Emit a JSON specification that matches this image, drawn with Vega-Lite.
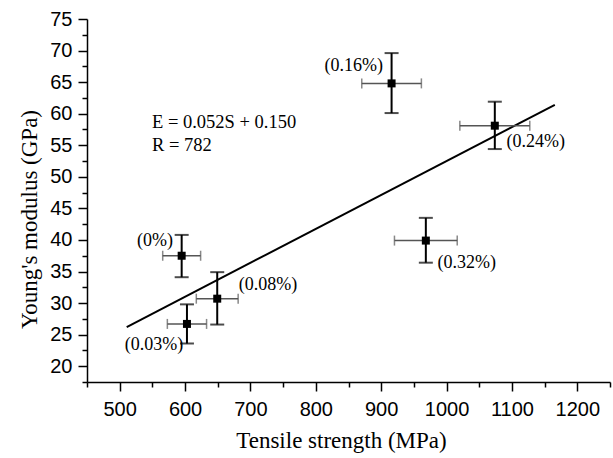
{
  "$schema": "https://vega.github.io/schema/vega-lite/v6.json",
  "width": 523,
  "height": 363,
  "autosize": {"type": "none"},
  "padding": {"left": 87, "top": 19, "right": 3, "bottom": 76},
  "background": "white",
  "config": {
    "view": {"stroke": null},
    "axis": {
      "grid": false,
      "domainColor": "black",
      "domainWidth": 1.5,
      "tickColor": "black",
      "tickWidth": 1.5,
      "labelColor": "black",
      "labelFont": "Liberation Sans",
      "labelFontSize": 20,
      "titleFont": "Liberation Serif",
      "titleFontSize": 23,
      "titleFontWeight": "normal",
      "titleColor": "black"
    }
  },
  "datasets": {
    "points": [
      {"s": 594.8, "e": 37.5, "s_lo": 565.8, "s_hi": 623.8, "e_lo": 34.1, "e_hi": 40.8},
      {"s": 602.9, "e": 26.7, "s_lo": 572.9, "s_hi": 632.9, "e_lo": 23.6, "e_hi": 29.8},
      {"s": 649.2, "e": 30.7, "s_lo": 617.2, "s_hi": 681.2, "e_lo": 26.6, "e_hi": 34.9},
      {"s": 915.9, "e": 64.8, "s_lo": 870.3, "s_hi": 961.5, "e_lo": 60.1, "e_hi": 69.6},
      {"s": 1073.8, "e": 58.1, "s_lo": 1020.3, "s_hi": 1127.3, "e_lo": 54.4, "e_hi": 61.9},
      {"s": 968.3, "e": 39.9, "s_lo": 920.3, "s_hi": 1016.3, "e_lo": 36.4, "e_hi": 43.5}
    ],
    "fit": [
      {"s": 510.7, "e": 26.2},
      {"s": 1165.6, "e": 61.4}
    ],
    "labels": [
      {"s": 554, "e": 39.9, "text": "(0%)"},
      {"s": 858, "e": 67.6, "text": "(0.16%)"},
      {"s": 1136.5, "e": 55.5, "text": "(0.24%)"},
      {"s": 1031, "e": 36.4, "text": "(0.32%)"},
      {"s": 726.8, "e": 32.8, "text": "(0.08%)"},
      {"s": 552.4, "e": 23.4, "text": "(0.03%)"}
    ],
    "equation": [
      {"s": 549.4, "e": 58.7, "text": "E = 0.052S + 0.150"},
      {"s": 549.4, "e": 55.1, "text": "R = 782"}
    ]
  },
  "resolve": {"axis": {"x": "independent", "y": "independent"}},
  "layer": [
    {
      "data": {"name": "fit"},
      "mark": {"type": "line", "color": "black", "strokeWidth": 2},
      "encoding": {
        "x": {
          "field": "s", "type": "quantitative",
          "scale": {"domain": [450, 1250], "nice": false, "zero": false},
          "axis": {
            "orient": "bottom",
            "values": [500, 600, 700, 800, 900, 1000, 1100, 1200],
            "format": "d",
            "tickSize": 9,
            "labelPadding": 8,
            "title": "Tensile strength (MPa)",
            "titlePadding": 10,
            "titleX": 254
          }
        },
        "y": {
          "field": "e", "type": "quantitative",
          "scale": {"domain": [17.5, 75], "nice": false, "zero": false},
          "axis": {
            "orient": "left",
            "values": [20, 25, 30, 35, 40, 45, 50, 55, 60, 65, 70, 75],
            "format": "d",
            "tickSize": 9,
            "labelPadding": 6,
            "title": "Young's modulus (GPa)",
            "titlePadding": 8,
            "titleY": 200
          }
        }
      }
    },
    {
      "data": {"name": "points"},
      "mark": {"type": "rule", "color": "#555555", "strokeWidth": 1.5},
      "encoding": {
        "x": {
          "field": "s_lo", "type": "quantitative",
          "axis": {
            "orient": "bottom",
            "values": [450, 550, 650, 750, 850, 950, 1050, 1150, 1250],
            "tickSize": 5,
            "labels": false,
            "domain": false,
            "title": null
          }
        },
        "x2": {"field": "s_hi"},
        "y": {
          "field": "e", "type": "quantitative",
          "axis": {
            "orient": "left",
            "values": [17.5, 22.5, 27.5, 32.5, 37.5, 42.5, 47.5, 52.5, 57.5, 62.5, 67.5, 72.5],
            "tickSize": 5,
            "labels": false,
            "domain": false,
            "title": null
          }
        }
      }
    },
    {
      "data": {"name": "points"},
      "mark": {"type": "tick", "orient": "vertical", "color": "#555555", "thickness": 1.5, "size": 10},
      "encoding": {
        "x": {"field": "s_lo", "type": "quantitative", "axis": null},
        "y": {"field": "e", "type": "quantitative", "axis": null}
      }
    },
    {
      "data": {"name": "points"},
      "mark": {"type": "tick", "orient": "vertical", "color": "#555555", "thickness": 1.5, "size": 10},
      "encoding": {
        "x": {"field": "s_hi", "type": "quantitative", "axis": null},
        "y": {"field": "e", "type": "quantitative", "axis": null}
      }
    },
    {
      "data": {"name": "points"},
      "mark": {"type": "rule", "color": "black", "strokeWidth": 2},
      "encoding": {
        "x": {"field": "s", "type": "quantitative", "axis": null},
        "y": {"field": "e_lo", "type": "quantitative", "axis": null},
        "y2": {"field": "e_hi"}
      }
    },
    {
      "data": {"name": "points"},
      "mark": {"type": "tick", "orient": "horizontal", "color": "black", "thickness": 2, "size": 14},
      "encoding": {
        "x": {"field": "s", "type": "quantitative", "axis": null},
        "y": {"field": "e_lo", "type": "quantitative", "axis": null}
      }
    },
    {
      "data": {"name": "points"},
      "mark": {"type": "tick", "orient": "horizontal", "color": "black", "thickness": 2, "size": 14},
      "encoding": {
        "x": {"field": "s", "type": "quantitative", "axis": null},
        "y": {"field": "e_hi", "type": "quantitative", "axis": null}
      }
    },
    {
      "data": {"name": "points"},
      "mark": {"type": "square", "color": "black", "opacity": 1, "filled": true, "size": 64},
      "encoding": {
        "x": {"field": "s", "type": "quantitative", "axis": null},
        "y": {"field": "e", "type": "quantitative", "axis": null}
      }
    },
    {
      "data": {"name": "labels"},
      "mark": {"type": "text", "font": "Liberation Serif", "fontSize": 18, "color": "black", "align": "center", "baseline": "middle"},
      "encoding": {
        "x": {"field": "s", "type": "quantitative", "axis": null},
        "y": {"field": "e", "type": "quantitative", "axis": null},
        "text": {"field": "text"}
      }
    },
    {
      "data": {"name": "equation"},
      "mark": {"type": "text", "font": "Liberation Serif", "fontSize": 18.5, "color": "black", "align": "left", "baseline": "middle"},
      "encoding": {
        "x": {"field": "s", "type": "quantitative", "axis": null},
        "y": {"field": "e", "type": "quantitative", "axis": null},
        "text": {"field": "text"}
      }
    }
  ]
}
